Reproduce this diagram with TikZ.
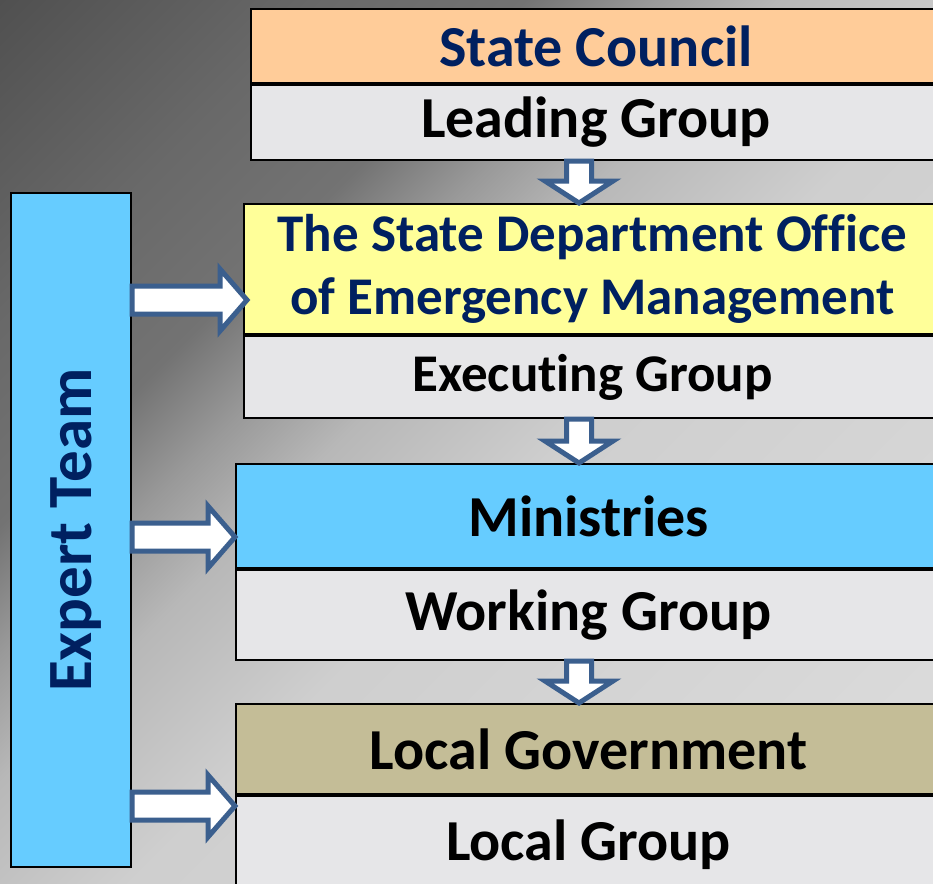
\documentclass[tikz,border=0pt]{standalone}
\usepackage{fontspec}
\setmainfont{Carlito}[Ligatures=NoCommon]
\usetikzlibrary{calc}

\definecolor{navy}{HTML}{002060}
\definecolor{peach}{HTML}{FFCC99}
\definecolor{paleyellow}{HTML}{FFFF99}
\definecolor{skyblue}{HTML}{66CCFF}
\definecolor{khaki}{HTML}{C4BD97}
\definecolor{arrowblue}{HTML}{3B5F8E}
\definecolor{marble}{HTML}{E6E6E8}

% backdrop, light at the lower right, dark at the upper left
\pgfdeclareverticalshading{backdrop}{100bp}{color(0bp)=(black!10);
  color(30bp)=(black!16); color(46bp)=(black!19); color(55bp)=(black!28);
  color(60bp)=(black!40); color(65bp)=(black!55); color(73bp)=(black!59);
  color(90bp)=(black!72); color(100bp)=(black!75)}

\tikzset{
  headbox/.style={draw=black, line width=2pt, anchor=north west, inner sep=0pt,
    minimum width=#1, align=center, font=\fontsize{58}{62}\selectfont\bfseries},
  headbox/.default=690pt,
  groupbox/.style={headbox=#1, fill=marble, text=black},
  groupbox/.default=690pt,
  blockarrow/.style={draw=arrowblue, line width=5pt, fill=white, line join=miter},
}

% block arrows, tail point and tip point
\newcommand{\rightblock}[2]{%
  \draw[blockarrow] ($(#1)+(0,-14)$) -- ($(#2)+(-27,-14)$) -- ($(#2)+(-27,-31)$)
    -- (#2) -- ($(#2)+(-27,31)$) -- ($(#2)+(-27,14)$) -- ($(#1)+(0,14)$) -- cycle;}
\newcommand{\downblock}[2]{%
  \draw[blockarrow] ($(#1)+(-12.5,0)$) -- ($(#2)+(-12.5,-22)$) -- ($(#2)+(-34,-22)$)
    -- (#2) -- ($(#2)+(34,-22)$) -- ($(#2)+(12.5,-22)$) -- ($(#1)+(12.5,0)$) -- cycle;}

\begin{document}
\begin{tikzpicture}[x=1pt,y=-1pt]
  \clip (0,0) rectangle (933,883);
  \shade[shading=backdrop, shading angle=45] (0,0) rectangle (933,883);

  % levels
  \node[headbox, fill=peach, text=navy, minimum height=74pt] (council) at (250,8) {State Council};
  \node[groupbox, minimum height=75pt] (leading) at (council.south west) {Leading Group};

  \node[headbox=697pt, fill=paleyellow, text=navy, minimum height=130pt,
    font=\fontsize{53}{63}\selectfont\bfseries] (office) at (243,203)
    {The State Department Office\\of Emergency Management};
  \node[groupbox=697pt, minimum height=82pt, font=\fontsize{53}{60}\selectfont\bfseries]
    (executing) at (office.south west) {Executing Group};

  \node[headbox=705pt, fill=skyblue, text=black, minimum height=104pt] (ministries) at (235,463) {Ministries};
  \node[groupbox=705pt, minimum height=90pt] (working) at (ministries.south west) {Working Group};

  \node[headbox=705pt, fill=khaki, text=black, minimum height=90pt] (localgov) at (235,703) {Local Government};
  \node[groupbox=705pt, minimum height=97pt] (localgroup) at (localgov.south west) {Local Group};

  % expert team
  \node[draw=black, line width=2pt, fill=skyblue, anchor=north west, inner sep=0pt,
    minimum width=120pt, minimum height=674pt] (expert) at (10,192) {};
  \node[rotate=90, text=navy, font=\fontsize{63}{66}\selectfont\bfseries] (expertlabel)
    at ($(expert.center)+(5,0)$) {Expert Team};

  % arrows
  \coordinate (col) at (579,0);
  \downblock{leading.south -| col}{office.north -| col}
  \downblock{executing.south -| col}{ministries.north -| col}
  \downblock{working.south -| col}{localgov.north -| col}

  \coordinate (row1) at (0,300);
  \coordinate (row2) at (0,537);
  \coordinate (row3) at (0,806);
  \rightblock{expert.east |- row1}{$(office.west |- row1)+(4,0)$}
  \rightblock{expert.east |- row2}{ministries.west |- row2}
  \rightblock{expert.east |- row3}{localgov.west |- row3}
\end{tikzpicture}
\end{document}
